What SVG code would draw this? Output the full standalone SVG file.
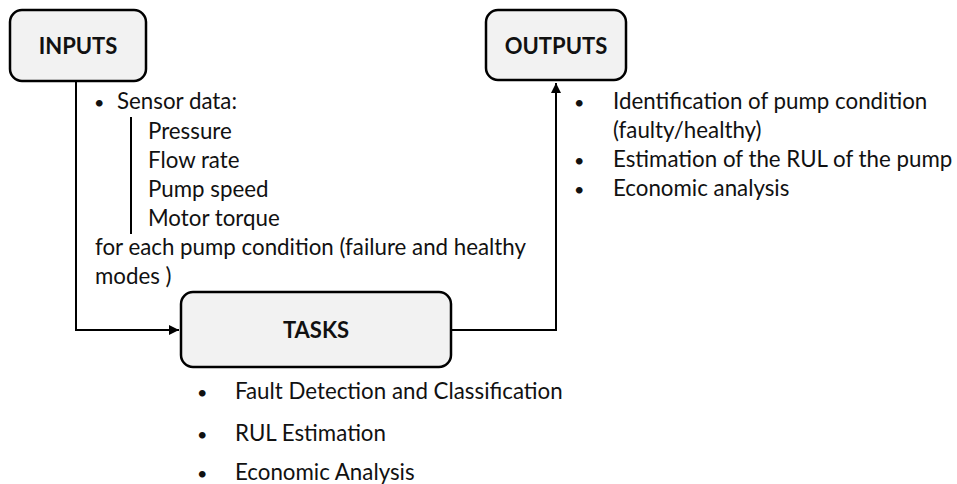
<svg xmlns="http://www.w3.org/2000/svg" width="957" height="484" viewBox="0 0 957 484">
<style>
.box{fill:#f2f2f2;stroke:#000;stroke-width:2.5}
.title{font-family:Lato,"Open Sans",sans-serif;font-weight:bold;font-size:22px;fill:#111;text-anchor:middle}
.t{font-family:Lato,"Open Sans",sans-serif;font-size:22.3px;fill:#111}
.b{font-family:Lato,"Open Sans",sans-serif;font-size:18px;fill:#111}
.conn{fill:none;stroke:#000;stroke-width:2}
</style>
<defs>
<marker id="arr" viewBox="0 0 10 10" refX="10" refY="5" markerWidth="5" markerHeight="5" orient="auto" markerUnits="strokeWidth">
<path d="M0,0 L10,5 L0,10 z" fill="#000"/>
</marker>
</defs>
<rect width="957" height="484" fill="#fff"/>
<g id="connectors">
<polyline class="conn" points="76,82 76,330 179,330" marker-end="url(#arr)"/>
<polyline class="conn" points="451,330 556,330 556,83" marker-end="url(#arr)"/>
</g>
<g id="inputs">
<rect class="box" x="10" y="10" width="136" height="71" rx="12"/>
<text class="title" x="78" y="54">INPUTS</text>
</g>
<g id="outputs">
<rect class="box" x="486" y="10" width="140" height="70" rx="12"/>
<text class="title" x="556" y="54">OUTPUTS</text>
</g>
<g id="tasks">
<rect class="box" x="181" y="292" width="270" height="75" rx="12"/>
<text class="title" x="316" y="338">TASKS</text>
</g>
<g id="inputs-text">
<text class="b" x="94" y="109">•</text>
<text class="t" x="117" y="109">Sensor data:</text>
<line x1="131" y1="117" x2="131" y2="234" stroke="#000" stroke-width="2"/>
<text class="t" x="148" y="139">Pressure</text>
<text class="t" x="148" y="168">Flow rate</text>
<text class="t" x="148" y="197">Pump speed</text>
<text class="t" x="148" y="226">Motor torque</text>
<text class="t" x="95" y="255">for each pump condition (failure and healthy</text>
<text class="t" x="95" y="284">modes )</text>
</g>
<g id="outputs-text">
<text class="b" x="574" y="109">•</text>
<text class="t" x="613" y="109">Identification of pump condition</text>
<text class="t" x="613" y="138">(faulty/healthy)</text>
<text class="b" x="574" y="167">•</text>
<text class="t" x="613" y="167">Estimation of the RUL of the pump</text>
<text class="b" x="574" y="196">•</text>
<text class="t" x="613" y="196">Economic analysis</text>
</g>
<g id="tasks-text">
<text class="b" x="197" y="399">•</text>
<text class="t" x="235" y="399">Fault Detection and Classification</text>
<text class="b" x="197" y="441">•</text>
<text class="t" x="235" y="441">RUL Estimation</text>
<text class="b" x="197" y="480">•</text>
<text class="t" x="235" y="480">Economic Analysis</text>
</g>
</svg>
